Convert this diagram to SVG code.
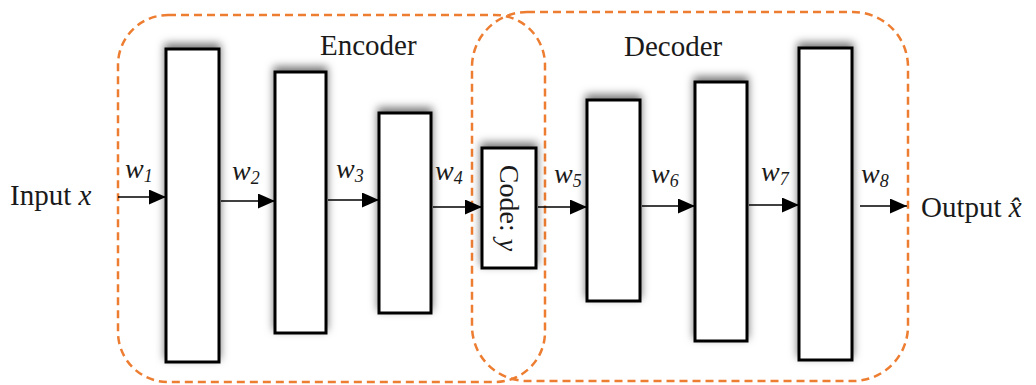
<svg xmlns="http://www.w3.org/2000/svg" width="1036" height="385" viewBox="0 0 1036 385">
<style>
.grp{fill:none;stroke:#ED7D31;stroke-width:2.5;stroke-dasharray:8 5}
.layer{fill:#fff;stroke:#000;stroke-width:3;filter:url(#sh)}
.conn{stroke:#000;stroke-width:1.6;fill:none;marker-end:url(#ah)}
.t{font-family:"Liberation Serif","Times New Roman",serif;fill:#1a1a1a}
.lbl{font-size:29px}
.w{font-size:28px;font-style:italic}
.sub{font-size:18px}
.it{font-style:italic}
</style>
<defs>
<filter id="sh" x="-40%" y="-20%" width="180%" height="140%">
<feDropShadow dx="0" dy="-4" stdDeviation="4" flood-color="#000" flood-opacity="0.55"/>
</filter>
<marker id="ah" markerWidth="17" markerHeight="15" refX="17" refY="7.5" orient="auto" markerUnits="userSpaceOnUse">
<path d="M0,0 L17,7.5 L0,15 Z" fill="#000"/>
</marker>
</defs>
<rect width="1036" height="385" fill="#fff"/>

<g id="encoder-group">
<rect class="grp" x="118" y="15" width="427" height="367" rx="50" ry="50"/>
<text class="t lbl" x="320" y="55">Encoder</text>
</g>
<g id="decoder-group">
<rect class="grp" x="472" y="12" width="436" height="369" rx="55" ry="55"/>
<text class="t lbl" x="624" y="56">Decoder</text>
</g>

<g id="input"><text class="t lbl" x="10" y="205">Input <tspan class="it">x</tspan></text></g>
<g id="enc1"><rect class="layer" x="166" y="49" width="53" height="313"/></g>
<g id="enc2"><rect class="layer" x="275" y="72" width="51" height="261"/></g>
<g id="enc3"><rect class="layer" x="379" y="113" width="52" height="200"/></g>
<g id="code"><rect class="layer" x="482" y="148" width="54" height="120"/>
<text class="t" font-size="28" transform="translate(509,208) rotate(90)" text-anchor="middle" dominant-baseline="central">Code: <tspan class="it">y</tspan></text></g>
<g id="dec1"><rect class="layer" x="587" y="100" width="53" height="201"/></g>
<g id="dec2"><rect class="layer" x="695" y="82" width="52" height="259"/></g>
<g id="dec3"><rect class="layer" x="799" y="48" width="53" height="312"/></g>
<g id="output"><text class="t lbl" x="921" y="217">Output <tspan class="it">x̂</tspan></text></g>

<g id="connectors">
<line class="conn" x1="118" y1="197" x2="166" y2="197"/>
<line class="conn" x1="221" y1="201" x2="275" y2="201"/>
<line class="conn" x1="328" y1="200" x2="379" y2="200"/>
<line class="conn" x1="433" y1="207" x2="482" y2="207"/>
<line class="conn" x1="538" y1="207" x2="587" y2="207"/>
<line class="conn" x1="642" y1="206" x2="695" y2="206"/>
<line class="conn" x1="749" y1="205" x2="799" y2="205"/>
<line class="conn" x1="860" y1="206" x2="907" y2="206"/>
<text class="t w" x="125" y="178">w<tspan class="sub it" dy="4">1</tspan></text>
<text class="t w" x="232" y="180">w<tspan class="sub it" dy="4">2</tspan></text>
<text class="t w" x="336" y="178">w<tspan class="sub it" dy="4">3</tspan></text>
<text class="t w" x="435" y="180">w<tspan class="sub it" dy="4">4</tspan></text>
<text class="t w" x="554" y="183">w<tspan class="sub it" dy="4">5</tspan></text>
<text class="t w" x="651" y="183">w<tspan class="sub it" dy="4">6</tspan></text>
<text class="t w" x="761" y="181">w<tspan class="sub it" dy="4">7</tspan></text>
<text class="t w" x="861" y="183">w<tspan class="sub it" dy="4">8</tspan></text>
</g>
</svg>
